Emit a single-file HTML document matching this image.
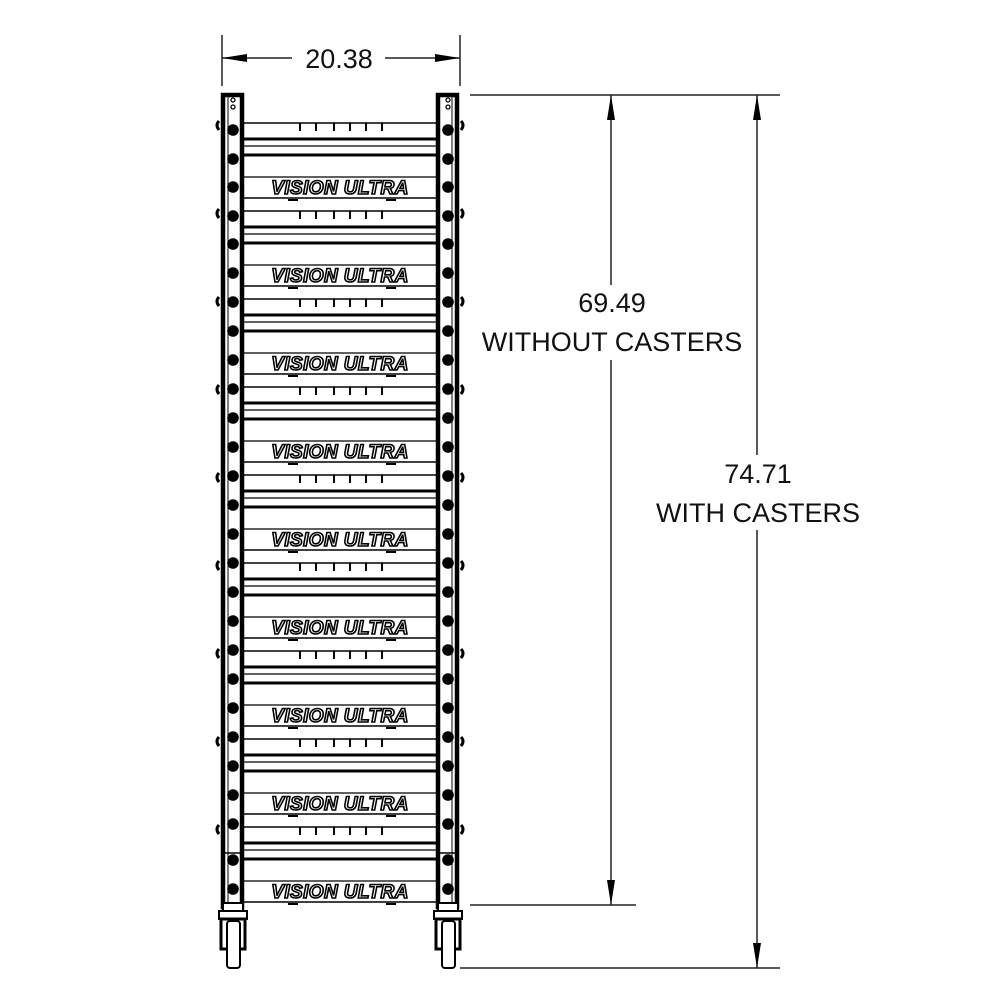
<!DOCTYPE html>
<html><head><meta charset="utf-8"><style>
html,body{margin:0;padding:0;background:#fff}
svg{display:block}
.dim{font-family:"Liberation Sans","DejaVu Sans",sans-serif;font-size:27px;fill:#111}
.logo{font-family:"Liberation Sans",sans-serif;font-size:19px;font-weight:bold;font-style:italic;fill:#fff;stroke:#000;stroke-width:1.6px;letter-spacing:0.4px}
</style></head><body>
<svg width="1000" height="1000" viewBox="0 0 1000 1000" xmlns="http://www.w3.org/2000/svg">
<defs>
<g id="unit" stroke="#000" fill="none">
  <line x1="243" y1="0" x2="437" y2="0" stroke-width="1.5"/>
  <g stroke-width="2">
    <line x1="300" y1="0" x2="300" y2="8"/><line x1="316" y1="0" x2="316" y2="8"/>
    <line x1="334" y1="0" x2="334" y2="8"/><line x1="350" y1="0" x2="350" y2="8"/>
    <line x1="366" y1="0" x2="366" y2="8"/><line x1="382" y1="0" x2="382" y2="8"/>
  </g>
  <line x1="243" y1="16" x2="437" y2="16" stroke-width="3"/>
  <line x1="243" y1="23" x2="437" y2="23" stroke-width="1.2"/>
  <line x1="243" y1="32" x2="437" y2="32" stroke-width="3"/>
  <line x1="243" y1="54" x2="437" y2="54" stroke-width="1.2"/>
  <line x1="243" y1="75" x2="437" y2="75" stroke-width="1.5"/>
  <line x1="288" y1="77" x2="298" y2="77" stroke-width="2"/>
  <line x1="386" y1="77" x2="396" y2="77" stroke-width="2"/>
  <path d="M219 -2 q-4 4 0 9" stroke-width="3"/>
  <path d="M461 -2 q4 4 0 9" stroke-width="3"/>
</g>
</defs>

<g stroke="#000" fill="none">
  <rect x="223" y="95" width="19" height="812" stroke-width="4.5"/>
  <rect x="438" y="95" width="19" height="812" stroke-width="4.5"/>
  <line x1="228" y1="97" x2="228" y2="905" stroke-width="1"/>
  <line x1="452" y1="97" x2="452" y2="905" stroke-width="1"/>
  <circle cx="233" cy="100" r="2" stroke-width="1.3"/><circle cx="233" cy="107" r="2" stroke-width="1.3"/>
  <circle cx="448" cy="100" r="2" stroke-width="1.3"/><circle cx="448" cy="107" r="2" stroke-width="1.3"/>
  <line x1="223" y1="853" x2="243" y2="853" stroke-width="1.5"/>
  <line x1="437" y1="853" x2="457" y2="853" stroke-width="1.5"/>
</g>
<g fill="#000">
  <circle cx="233" cy="130" r="5.8"/><circle cx="448" cy="130" r="5.8"/>
  <circle cx="233" cy="159" r="5.8"/><circle cx="448" cy="159" r="5.8"/>
  <circle cx="233" cy="187" r="5.8"/><circle cx="448" cy="187" r="5.8"/>
  <circle cx="233" cy="216" r="5.8"/><circle cx="448" cy="216" r="5.8"/>
  <circle cx="233" cy="244" r="5.8"/><circle cx="448" cy="244" r="5.8"/>
  <circle cx="233" cy="273" r="5.8"/><circle cx="448" cy="273" r="5.8"/>
  <circle cx="233" cy="302" r="5.8"/><circle cx="448" cy="302" r="5.8"/>
  <circle cx="233" cy="331" r="5.8"/><circle cx="448" cy="331" r="5.8"/>
  <circle cx="233" cy="360" r="5.8"/><circle cx="448" cy="360" r="5.8"/>
  <circle cx="233" cy="389" r="5.8"/><circle cx="448" cy="389" r="5.8"/>
  <circle cx="233" cy="418" r="5.8"/><circle cx="448" cy="418" r="5.8"/>
  <circle cx="233" cy="447" r="5.8"/><circle cx="448" cy="447" r="5.8"/>
  <circle cx="233" cy="476" r="5.8"/><circle cx="448" cy="476" r="5.8"/>
  <circle cx="233" cy="505" r="5.8"/><circle cx="448" cy="505" r="5.8"/>
  <circle cx="233" cy="534" r="5.8"/><circle cx="448" cy="534" r="5.8"/>
  <circle cx="233" cy="563" r="5.8"/><circle cx="448" cy="563" r="5.8"/>
  <circle cx="233" cy="592" r="5.8"/><circle cx="448" cy="592" r="5.8"/>
  <circle cx="233" cy="621" r="5.8"/><circle cx="448" cy="621" r="5.8"/>
  <circle cx="233" cy="650" r="5.8"/><circle cx="448" cy="650" r="5.8"/>
  <circle cx="233" cy="679" r="5.8"/><circle cx="448" cy="679" r="5.8"/>
  <circle cx="233" cy="708" r="5.8"/><circle cx="448" cy="708" r="5.8"/>
  <circle cx="233" cy="737" r="5.8"/><circle cx="448" cy="737" r="5.8"/>
  <circle cx="233" cy="766" r="5.8"/><circle cx="448" cy="766" r="5.8"/>
  <circle cx="233" cy="795" r="5.8"/><circle cx="448" cy="795" r="5.8"/>
  <circle cx="233" cy="824" r="5.8"/><circle cx="448" cy="824" r="5.8"/>
  <circle cx="233" cy="860" r="5.8"/><circle cx="448" cy="860" r="5.8"/>
  <circle cx="233" cy="889" r="5.8"/><circle cx="448" cy="889" r="5.8"/>
</g>

<use href="#unit" transform="translate(0,123)"/>
<use href="#unit" transform="translate(0,211)"/>
<use href="#unit" transform="translate(0,299)"/>
<use href="#unit" transform="translate(0,387)"/>
<use href="#unit" transform="translate(0,475)"/>
<use href="#unit" transform="translate(0,563)"/>
<use href="#unit" transform="translate(0,651)"/>
<use href="#unit" transform="translate(0,739)"/>
<use href="#unit" transform="translate(0,827)"/>

<g class="logo" text-anchor="middle">
  <text x="340" y="194">VISION ULTRA</text>
  <text x="340" y="282">VISION ULTRA</text>
  <text x="340" y="370">VISION ULTRA</text>
  <text x="340" y="458">VISION ULTRA</text>
  <text x="340" y="546">VISION ULTRA</text>
  <text x="340" y="634">VISION ULTRA</text>
  <text x="340" y="722">VISION ULTRA</text>
  <text x="340" y="810">VISION ULTRA</text>
  <text x="340" y="898">VISION ULTRA</text>
</g>

<g stroke="#000" fill="#fff" stroke-width="2">
  <rect x="223" y="903" width="20" height="8"/>
  <rect x="219" y="911" width="28" height="8"/>
  <path d="M221 919 h24 v30 h-24 z" stroke-width="3"/>
  <rect x="227" y="921" width="13" height="47" rx="3"/>
  <rect x="438" y="903" width="20" height="8"/>
  <rect x="434" y="911" width="28" height="8"/>
  <path d="M436 919 h24 v30 h-24 z" stroke-width="3"/>
  <rect x="442" y="921" width="13" height="47" rx="3"/>
</g>

<g stroke="#222" stroke-width="1.5" fill="none">
  <line x1="222" y1="35" x2="222" y2="86"/>
  <line x1="460" y1="35" x2="460" y2="86"/>
  <line x1="222" y1="58" x2="292" y2="58"/>
  <line x1="385" y1="58" x2="460" y2="58"/>
  <line x1="470" y1="95" x2="780" y2="95"/>
  <line x1="470" y1="905" x2="636" y2="905"/>
  <line x1="460" y1="968" x2="780" y2="968"/>
  <line x1="611" y1="95" x2="611" y2="285"/>
  <line x1="611" y1="360" x2="611" y2="905"/>
  <line x1="757" y1="95" x2="757" y2="455"/>
  <line x1="757" y1="530" x2="757" y2="968"/>
</g>
<g fill="#000">
  <polygon points="222,58 247,54 247,62"/>
  <polygon points="460,58 435,54 435,62"/>
  <polygon points="611,95 607,120 615,120"/>
  <polygon points="611,905 607,880 615,880"/>
  <polygon points="757,95 753,120 761,120"/>
  <polygon points="757,968 753,943 761,943"/>
</g>
<g class="dim" text-anchor="middle">
  <text x="339" y="68">20.38</text>
  <text x="612" y="312">69.49</text>
  <text x="612" y="351">WITHOUT CASTERS</text>
  <text x="758" y="483">74.71</text>
  <text x="758" y="522">WITH CASTERS</text>
</g>
</svg>
</body></html>
